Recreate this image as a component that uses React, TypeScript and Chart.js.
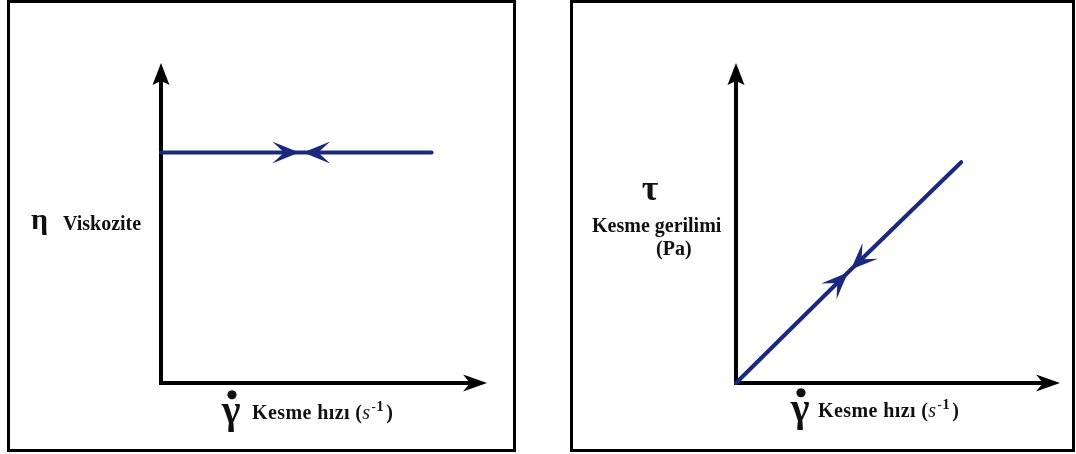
import { useEffect, useRef } from "react";
import { Chart, registerables } from "chart.js";

Chart.register(...registerables);

// Newtonian fluid: viscosity stays constant with shear rate
const shearRateA = [0, 4.3, 8.3];
const viscosity = [7.2, 7.2, 7.2];

// Newtonian fluid: shear stress grows linearly with shear rate
const shearRateB = [0, 3.5, 6.95];
const shearStress = [0, 3.5, 6.9];

const axisMin = 0;
const axisMax = 10;

const LINE_BLUE = "#1a287f";
const SERIF = "'Liberation Serif', 'Times New Roman', serif";

type Seg = { t: string; font: string; dy?: number; dx?: number };
type Label = {
  x: number;
  y: number;
  segs: Seg[];
  align?: "left" | "center";
  baseline?: CanvasTextBaseline;
  spacing?: number;
};

function arrowhead(
  ctx: CanvasRenderingContext2D,
  tx: number,
  ty: number,
  dx: number,
  dy: number,
  len: number,
  half: number,
  notch: number,
  color: string
) {
  const m = Math.hypot(dx, dy) || 1;
  const ux = dx / m;
  const uy = dy / m;
  const px = -uy;
  const py = ux;
  const bx = tx - ux * len;
  const by = ty - uy * len;
  const nx = tx - ux * (len - notch);
  const ny = ty - uy * (len - notch);
  ctx.beginPath();
  ctx.moveTo(tx, ty);
  ctx.lineTo(bx + px * half, by + py * half);
  ctx.lineTo(nx, ny);
  ctx.lineTo(bx - px * half, by - py * half);
  ctx.closePath();
  ctx.fillStyle = color;
  ctx.fill();
}

// Plain black axes with arrow tips at the scale ends
const sketchAxes = {
  id: "sketchAxes",
  beforeDatasetsDraw(chart: any) {
    const { ctx, scales } = chart;
    const xs = scales.x;
    const ys = scales.y;
    const x0 = xs.getPixelForValue(xs.min);
    const y0 = ys.getPixelForValue(ys.min);
    const xEnd = xs.getPixelForValue(xs.max);
    const yEnd = ys.getPixelForValue(ys.max);
    ctx.save();
    ctx.strokeStyle = "#000";
    ctx.lineWidth = 4;
    ctx.beginPath();
    ctx.moveTo(x0, y0 + 2);
    ctx.lineTo(x0, yEnd + 12);
    ctx.moveTo(x0 - 2, y0);
    ctx.lineTo(xEnd - 12, y0);
    ctx.stroke();
    arrowhead(ctx, x0, yEnd, 0, -1, 22, 8.5, 4, "#000");
    arrowhead(ctx, xEnd, y0, 1, 0, 24, 8.5, 7, "#000");
    ctx.restore();
  },
};

// Two arrowheads meeting at the marked point: one going up the curve, one coming back
const flowArrows = {
  id: "flowArrows",
  afterDatasetsDraw(chart: any, _args: any, opts: any) {
    const pts = chart.getDatasetMeta(0).data;
    const i = opts.index ?? 1;
    const mid = pts[i];
    const prev = pts[i - 1];
    const next = pts[i + 1];
    if (!mid || !prev || !next) return;
    const gap = 2;
    const { ctx } = chart;
    ctx.save();
    let dx = mid.x - prev.x;
    let dy = mid.y - prev.y;
    let m = Math.hypot(dx, dy);
    arrowhead(ctx, mid.x - (dx / m) * gap, mid.y - (dy / m) * gap, dx, dy, 27, 11, 12, LINE_BLUE);
    dx = mid.x - next.x;
    dy = mid.y - next.y;
    m = Math.hypot(dx, dy);
    arrowhead(ctx, mid.x - (dx / m) * gap, mid.y - (dy / m) * gap, dx, dy, 27, 11, 12, LINE_BLUE);
    ctx.restore();
  },
};

// Axis captions written as rich text runs
const sketchLabels = {
  id: "sketchLabels",
  afterDraw(chart: any, _args: any, opts: any) {
    const { ctx } = chart;
    const items: Label[] = opts.items || [];
    ctx.save();
    ctx.fillStyle = "#111";
    ctx.textAlign = "left";
    for (const it of items) {
      ctx.textBaseline = it.baseline || "alphabetic";
      (ctx as any).letterSpacing = `${it.spacing || 0}px`;
      let width = 0;
      for (const s of it.segs) {
        ctx.font = s.font;
        width += ctx.measureText(s.t).width + (s.dx || 0);
      }
      let x = it.align === "center" ? it.x - width / 2 : it.x;
      for (const s of it.segs) {
        ctx.font = s.font;
        x += s.dx || 0;
        ctx.fillText(s.t, x, it.y + (s.dy || 0));
        x += ctx.measureText(s.t).width;
      }
    }
    ctx.restore();
  },
};

const rateTitle = (x: number, y: number): Label => ({
  x,
  y,
  spacing: 0.4,
  segs: [
    { t: "Kesme hızı (", font: `bold 20px ${SERIF}` },
    { t: "s", font: `italic 20px ${SERIF}` },
    { t: "-", font: `bold 13px ${SERIF}`, dy: -8, dx: 1 },
    { t: "1", font: `bold 15px ${SERIF}`, dy: -8 },
    { t: ")", font: `bold 20px ${SERIF}`, dx: 2 },
  ],
});

const gammaDot = (cx: number, baseline: number): Label[] => [
  { x: cx, y: baseline, align: "center", segs: [{ t: "γ", font: `bold 40px ${SERIF}` }] },
  {
    x: cx + 1,
    y: baseline - 28,
    align: "center",
    baseline: "middle",
    segs: [{ t: "●", font: `12px 'DejaVu Sans', sans-serif` }],
  },
];

function makeChart(
  canvas: HTMLCanvasElement,
  xs: number[],
  ys: number[],
  padding: { left: number; right: number; top: number; bottom: number },
  labels: Label[]
) {
  return new Chart(canvas, {
    type: "line",
    data: {
      datasets: [
        {
          data: xs.map((v, i) => ({ x: v, y: ys[i] })),
          borderColor: LINE_BLUE,
          borderWidth: 4,
          borderCapStyle: "round",
          pointRadius: 0,
          tension: 0,
          fill: false,
          clip: false as any,
        },
      ],
    },
    options: {
      responsive: false,
      maintainAspectRatio: false,
      animation: false,
      events: [],
      layout: { padding },
      scales: {
        x: { type: "linear", min: axisMin, max: axisMax, display: false },
        y: { type: "linear", min: axisMin, max: axisMax, display: false },
      },
      plugins: {
        legend: { display: false },
        tooltip: { enabled: false },
        title: { display: false },
        flowArrows: { index: 1 },
        sketchLabels: { items: labels },
      } as any,
    },
    plugins: [sketchAxes, flowArrows, sketchLabels],
  });
}

export default function App() {
  const leftRef = useRef<HTMLCanvasElement>(null);
  const rightRef = useRef<HTMLCanvasElement>(null);

  useEffect(() => {
    const left = makeChart(
      leftRef.current!,
      shearRateA,
      viscosity,
      { left: 151, right: 26, top: 60, bottom: 66 },
      [
        { x: 21, y: 226, segs: [{ t: "η", font: `bold 30px ${SERIF}` }] },
        { x: 53, y: 227, segs: [{ t: "Viskozite", font: `bold 20px ${SERIF}` }] },
        ...gammaDot(221, 420),
        rateTitle(242, 416),
      ]
    );
    const right = makeChart(
      rightRef.current!,
      shearRateB,
      shearStress,
      { left: 163, right: 12, top: 60, bottom: 66 },
      [
        { x: 77, y: 197, align: "center", segs: [{ t: "τ", font: `bold 36px ${SERIF}` }] },
        { x: 19, y: 229, segs: [{ t: "Kesme gerilimi", font: `bold 20px ${SERIF}` }] },
        { x: 83, y: 252, segs: [{ t: "(Pa)", font: `bold 20px ${SERIF}` }] },
        ...gammaDot(227, 418),
        rateTitle(245, 414),
      ]
    );
    return () => {
      left.destroy();
      right.destroy();
    };
  }, []);

  const panel = (left: number, width: number): React.CSSProperties => ({
    position: "absolute",
    left,
    top: 0,
    width,
    height: 446,
    border: "3px solid #000",
    background: "#fff",
  });

  return (
    <div style={{ position: "absolute", left: 0, top: 0, width: 1076, height: 454, background: "#fff" }}>
      <div style={panel(7, 503)}>
        <canvas ref={leftRef} width={503} height={446} style={{ display: "block" }} />
      </div>
      <div style={panel(570, 499)}>
        <canvas ref={rightRef} width={499} height={446} style={{ display: "block" }} />
      </div>
    </div>
  );
}
